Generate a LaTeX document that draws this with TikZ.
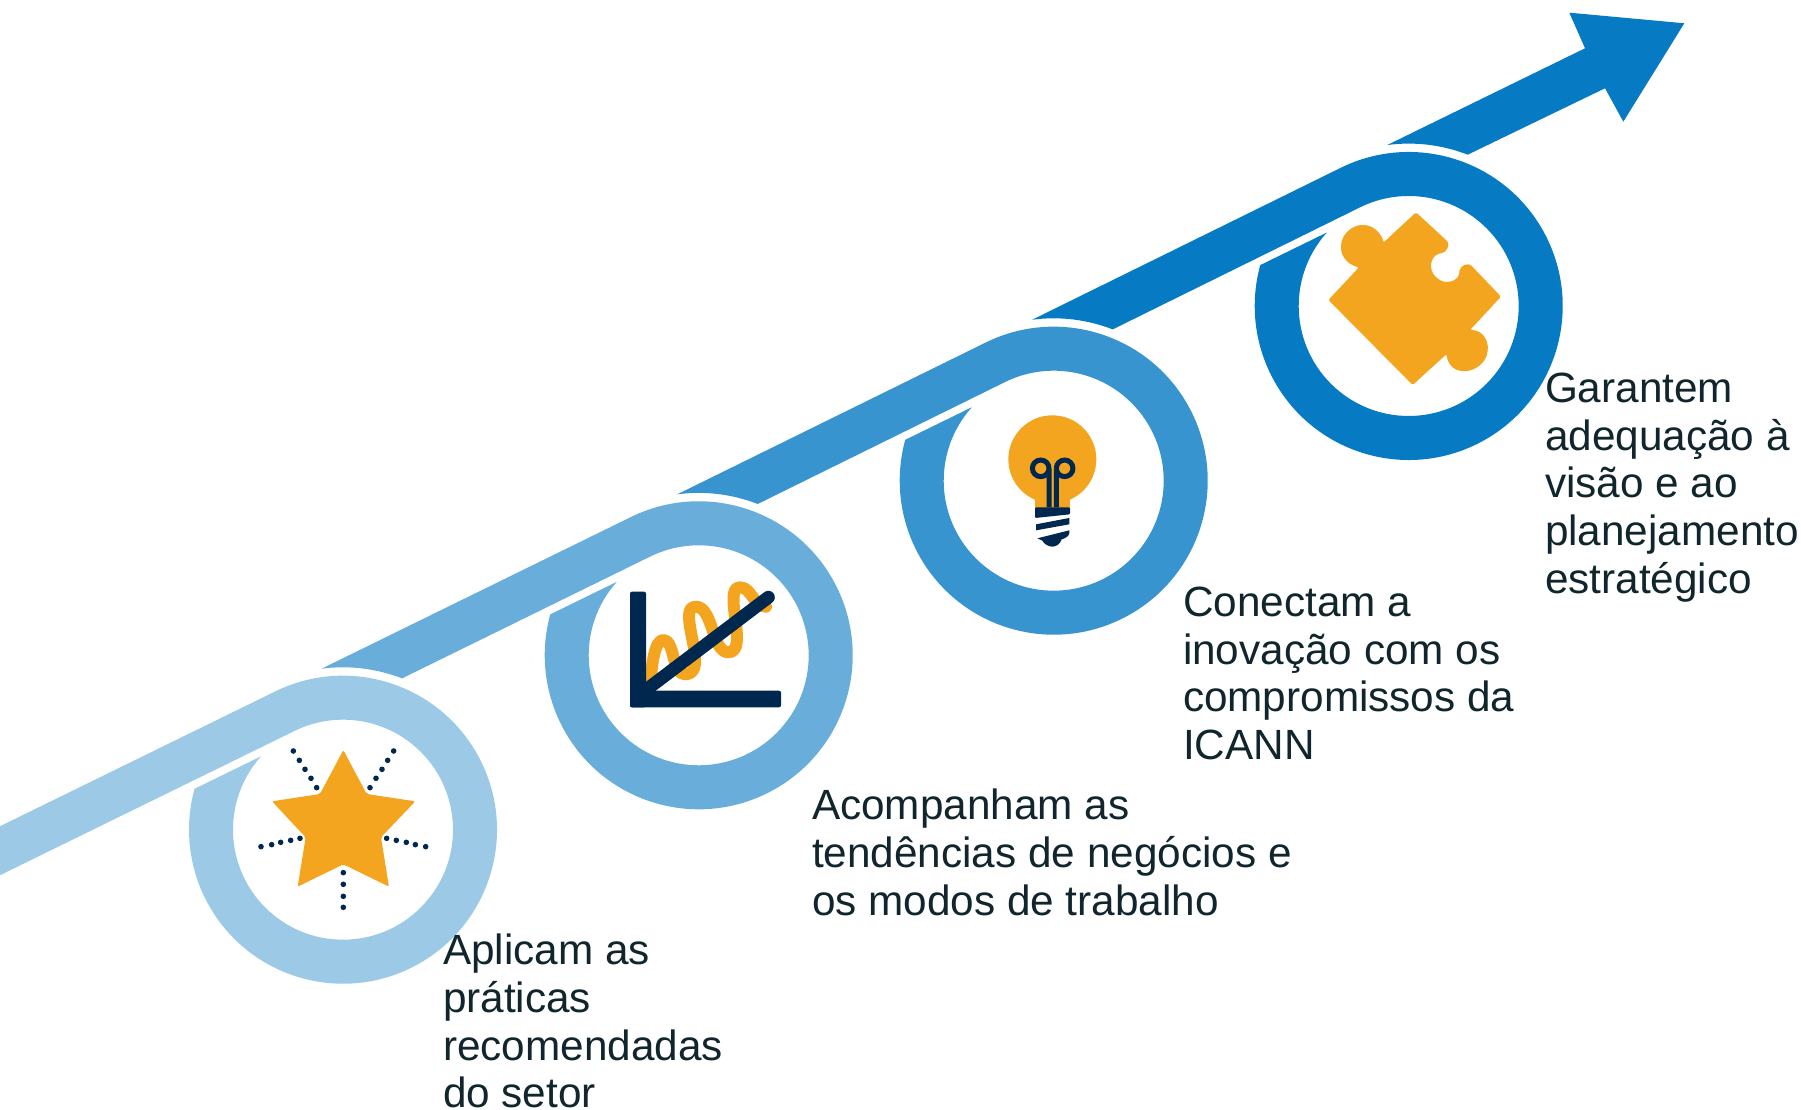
\documentclass[tikz,border=0pt]{standalone}
\usepackage{fontspec}
\setmainfont{Liberation Sans}
\usetikzlibrary{calc}
\definecolor{ringA}{HTML}{9CCAE6}
\definecolor{ringB}{HTML}{69AEDA}
\definecolor{ringC}{HTML}{3894CF}
\definecolor{ringD}{HTML}{067AC2}
\definecolor{iconorange}{HTML}{F4A51F}
\definecolor{iconnavy}{HTML}{00274D}
\definecolor{labeltext}{HTML}{10262C}
\newcommand{\ringpart}[3]{%
  \fill[#1] ($(#2)+(97.6:162.4)$) -- ($(#3)+(116.1:154)$)
    arc[start angle=116.1,end angle=-195.4,radius=154]
    -- ($(#3)+(138.1:110)$)
    arc[start angle=-221.9,end angle=116.1,radius=110]
    -- ($(#2)+(68.7:162.4)$)
    arc[start angle=68.7,end angle=97.6,radius=162.4] -- cycle;}
\tikzset{
  steplabel/.style={anchor=north west,inner sep=0pt,outer sep=0pt,align=left,text=labeltext,
    font=\fontsize{42.3}{47.7}\selectfont},
  zoomA/.style={shift={(0,470)},x=0.33333pt,y=-0.33333pt},
  zoomB/.style={shift={(530,620)},x=0.33333pt,y=-0.33333pt},
  zoomC/.style={shift={(960,720)},x=0.33333pt,y=-0.33333pt},
  zoomD/.style={shift={(1240,1110)},x=0.33333pt,y=-0.33333pt},
  dotmark/.style={fill=iconnavy}
}
\begin{document}
\begin{tikzpicture}[x=1pt,y=1pt]
\useasboundingbox (0,0) rectangle (1801,1110);
\clip (0,0) rectangle (1801,1110);
\coordinate (C1) at (343,280.3);
\coordinate (C2) at (698.7,454.7);
\coordinate (C3) at (1053.7,629.3);
\coordinate (C4) at (1408.7,804);
% first ring, band enters from the left edge
\fill[ringA] ($(C1)+(116.1:154)+(206.1:450)$) -- ($(C1)+(116.1:154)$)
    arc[start angle=116.1,end angle=-195.4,radius=154]
    -- ($(C1)+(138.1:110)$)
    arc[start angle=-221.9,end angle=116.1,radius=110]
    -- ($(C1)+(116.1:110)+(206.1:450)$) -- cycle;
\ringpart{ringB}{C1}{C2}
\ringpart{ringC}{C2}{C3}
\ringpart{ringD}{C3}{C4}
% arrow
\fill[ringD] ($(C4)+(97.6:162.4)$) -- (1585,1061.7) -- (1569.3,1097.3) -- (1684.3,1086.7)
   -- (1623.3,988.3) -- (1605,1021.7) -- ($(C4)+(68.7:162.4)$)
   arc[start angle=68.7,end angle=97.6,radius=162.4] -- cycle;
% star
\begin{scope}[zoomA]
\fill[iconorange,rounded corners=2pt] (1030,330) -- (1100,462) -- (1246,484) -- (1143,592) -- (1167,740)
  -- (1030,673) -- (893,740) -- (917,592) -- (816,484) -- (960,462) -- cycle;
\foreach \p in {(1110,443),(1128,415),(1146,388),(1163,361),(1181,333),
                (950,443),(933,415),(915,388),(898,361),(880,333),
                (900,595),(872,601),(842,607),(815,614),(783,620),
                (1160,595),(1189,601),(1219,607),(1246,614),(1277,620),
                (1030,698),(1030,733),(1030,769),(1030,802)}
  \fill[dotmark] \p circle[radius=2.8pt];
\end{scope}
% chart
\begin{scope}[zoomB]
\draw[iconorange,line width=12pt,line cap=round,line join=round] (362,578)
  .. controls (365,520) and (375,450) .. (400,450)
  .. controls (435,450) and (425,553) .. (465,553)
  .. controls (545,553) and (435,350) .. (497,350)
  .. controls (550,350) and (545,487) .. (595,487)
  .. controls (660,487) and (575,292) .. (630,292)
  .. controls (665,292) and (670,350) .. (708,350);
\fill[iconnavy,rounded corners=2pt] (300,305) rectangle (348,652);
\fill[iconnavy,rounded corners=2pt] (300,602) rectangle (753,652);
\draw[iconnavy,line width=13pt,line cap=round] (345,602) -- (715,322);
\end{scope}
% bulb
\begin{scope}[zoomC]
\fill[iconorange] (277,208) circle[radius=44pt];
\fill[iconorange] (225,300) rectangle (330,355);
\fill[iconnavy,rounded corners=1pt] (225,352) -- (330,352) -- (330,373) -- (225,384) -- cycle;
\fill[iconnavy] (228,403) -- (328,384) -- (328,403) -- (228,421) -- cycle;
\fill[iconnavy] (232,445) -- (328,421) -- (328,430) .. controls (326,440) and (315,445) .. (305,448)
  .. controls (300,465) and (285,470) .. (277,470) .. controls (265,470) and (252,462) .. (247,452) -- cycle;
\draw[iconnavy,line width=5pt] (267,352) -- (267,235) arc[start angle=0,end angle=-360,radius=8.3pt];
\draw[iconnavy,line width=5pt] (289,352) -- (289,235) arc[start angle=180,end angle=540,radius=8.3pt];
\end{scope}
% puzzle
\begin{scope}[zoomD]
\fill[iconorange,rounded corners=1.5pt] (528,637) -- (620,722)
  .. controls (630,735) and (620,758) .. (600,760)
  .. controls (570,770) and (565,810) .. (590,833)
  .. controls (615,855) and (655,845) .. (658,815)
  .. controls (662,795) and (685,788) .. (697,800)
  -- (783,890) -- (690,990)
  .. controls (730,990) and (745,1025) .. (743,1050)
  .. controls (740,1090) and (700,1115) .. (670,1113)
  .. controls (640,1112) and (622,1090) .. (620,1062)
  -- (518,1155) -- (265,900) -- (357,802)
  .. controls (325,795) and (303,770) .. (303,740)
  .. controls (305,700) and (340,675) .. (370,675)
  .. controls (400,677) and (425,700) .. (430,728) -- cycle;
\end{scope}
% labels
\node[steplabel] (labelA) at (443,176) {Aplicam as\\práticas\\recomendadas\\do setor};
\node[steplabel] (labelB) at (812,321) {Acompanham as\\tendências de negócios e\\os modos de trabalho};
\node[steplabel] (labelC) at (1183,523) {Conectam a\\inovação com os\\compromissos da\\ICANN};
\node[steplabel] (labelD) at (1545,737) {Garantem\\adequação à\\visão e ao\\planejamento\\estratégico};
\end{tikzpicture}
\end{document}
